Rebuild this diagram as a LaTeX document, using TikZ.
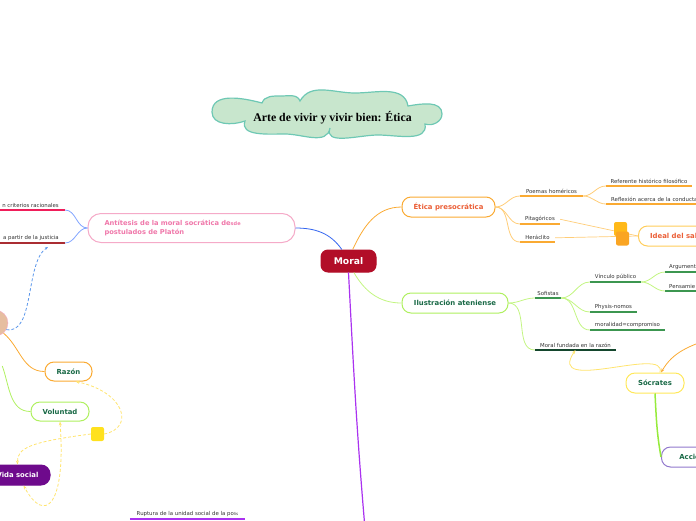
\documentclass[tikz,border=0pt]{standalone}
\usepackage{fontspec}
\setmainfont{DejaVu Sans}
\newfontfamily\titlefont{Liberation Serif}
\usepackage{tikz}
\usetikzlibrary{arrows.meta, positioning, calc}
\definecolor{moralred}{RGB}{178,14,40}
\definecolor{mydark}{RGB}{50,50,50}
\definecolor{myorange}{RGB}{250,170,50}
\definecolor{orangetxt}{RGB}{235,95,55}
\definecolor{lightorange}{RGB}{255,205,120}
\definecolor{ilgreen}{RGB}{175,240,95}
\definecolor{iltxt}{RGB}{25,105,70}
\definecolor{lightgreen}{RGB}{195,245,130}
\definecolor{leafgreen}{RGB}{60,150,80}
\definecolor{deepgreen}{RGB}{20,70,45}
\definecolor{pinkline}{RGB}{245,170,200}
\definecolor{pinktxt}{RGB}{240,120,170}
\definecolor{myblue}{RGB}{50,100,240}
\definecolor{lightblue}{RGB}{130,165,255}
\definecolor{dashblue}{RGB}{90,150,235}
\definecolor{mypurple}{RGB}{170,50,240}
\definecolor{vidapurple}{RGB}{110,10,140}
\definecolor{accpurple}{RGB}{145,120,205}
\definecolor{socyellow}{RGB}{255,232,90}
\definecolor{dashyellow}{RGB}{255,228,110}
\definecolor{sqyellow}{RGB}{255,225,30}
\definecolor{sqorangeA}{RGB}{255,185,25}
\definecolor{sqorangeB}{RGB}{250,165,35}
\definecolor{idealline}{RGB}{255,205,90}
\definecolor{beige}{RGB}{230,190,160}
\definecolor{critred}{RGB}{240,30,90}
\definecolor{justred}{RGB}{170,45,50}
\definecolor{cloudfill}{RGB}{200,230,205}
\definecolor{cloudline}{RGB}{110,200,180}
\definecolor{accgreen}{RGB}{150,235,60}
\tikzset{
  topic/.style={rectangle, draw, fill=white, rounded corners=9pt,
    minimum height=20pt, line width=1pt, inner xsep=4pt,
    font=\fontsize{6.9}{8}\selectfont\bfseries},
  leaf/.style={anchor=south, inner xsep=0pt, inner ysep=1.8pt,
    text=mydark, font=\fontsize{5.4}{6}\selectfont},
  uline/.style={line width=1.3pt},
  branch/.style={line width=0.8pt},
  reldash/.style={dashed, dash pattern=on 3pt off 2pt, line width=0.8pt,
    color=dashyellow},
  relsq/.style={rectangle, rounded corners=2pt, minimum width=13pt,
    minimum height=14pt, inner sep=0pt}
}
\begin{document}
\begin{tikzpicture}[x=1pt, y=-1pt]
  \useasboundingbox (0,0) rectangle (696,520);

  % --- title cloud ---
  \draw[fill=cloudfill, draw=cloudline, line width=1.2pt]
    (262,103) to[out=165,in=90] (212,112) to[out=-90,in=200] (245,121)
    to[out=-110,in=180] (285,134) to[out=0,in=-100] (330,128)
    to[out=-110,in=180] (378,135) to[out=0,in=-80] (425,124)
    to[out=-20,in=-90] (442,114) to[out=90,in=10] (408,106)
    to[out=100,in=0] (355,93) to[out=180,in=60] (300,101)
    to[out=110,in=0] (281,96) to[out=180,in=70] cycle;
  \node[font=\titlefont\fontsize{11.8}{13}\selectfont\bfseries] (title) at (332.5,117.5)
    {Arte de vivir y vivir bien: Ética};

  % --- central topic and main topics ---
  \node[topic, fill=moralred, draw=moralred, text=white, minimum width=55pt,
        minimum height=22pt, rounded corners=7pt,
        font=\fontsize{9.2}{10}\selectfont\bfseries] (moral) at (348.5,261) {Moral};
  \node[topic, draw=myorange, text=orangetxt, minimum width=93pt] (etica) at (448.5,207) {Ética presocrática};
  \node[topic, draw=ilgreen, text=iltxt, minimum width=106pt] (ilus) at (455,303) {Ilustración ateniense};
  \node[topic, draw=pinkline, text=pinktxt, minimum height=29pt, rounded corners=13pt,
        text width=174pt, inner xsep=16.5pt, align=left,
        font=\fontsize{6.7}{9}\selectfont\bfseries] (anti) at (191.5,228)
        {Antítesis de la moral socrática de{\fontsize{5}{5}\selectfont sde}\\postulados de Platón};

  \draw[branch, color=myorange] (moral.70) to[out=65,in=180] (etica.west);
  \draw[branch, color=lightgreen] (moral.-65) to[out=-60,in=180] (ilus.west);
  \draw[branch, color=myblue] (moral.120) to[out=125,in=0] (anti.east);
  \coordinate (bottomhub) at (366,540);
  \draw[line width=1.2pt, color=mypurple] (moral.south) to[out=-87,in=95] (bottomhub);

  % --- Ética presocrática ---
  \node[leaf, minimum width=63pt] (poemas) at (551.5,196) {Poemas homéricos};
  \node[leaf, minimum width=40pt] (pitag) at (540,224) {Pitagóricos};
  \node[leaf, minimum width=35pt] (herac) at (537.5,242) {Heráclito};
  \node[leaf, minimum width=86pt] (refer) at (649,186) {Referente histórico filosófico};
  \node[leaf, anchor=south west, inner xsep=5pt] (reflex) at (606,204) {Reflexión acerca de la conducta};
  \foreach \n in {poemas, pitag, herac, refer}
    \draw[uline, color=myorange] (\n.south west) -- (\n.south east);
  \draw[uline, color=myorange] (reflex.south west) -- ++(95,0);
  \foreach \n in {poemas, pitag, herac}
    \draw[branch, color=lightorange] (etica.east) to[out=0,in=180] (\n.south west);
  \draw[branch, color=lightorange] (poemas.south east) to[out=0,in=180] (refer.south west);
  \draw[branch, color=lightorange] (poemas.south east) to[out=0,in=180] (reflex.south west);

  \node[topic, anchor=west, draw=idealline, text=orangetxt, minimum width=80pt] (ideal) at (638,236) {Ideal del sabio};
  \draw[line width=0.7pt, color=lightorange] (pitag.east) -- (ideal.west);
  \draw[line width=0.7pt, color=lightorange] (herac.east) -- (ideal.west);
  \node[relsq, fill=sqorangeA] (sqa) at (620.5,229) {};
  \node[relsq, fill=sqorangeB] (sqb) at (622.5,238.5) {};

  % --- Ilustración ateniense ---
  \node[leaf, minimum width=26pt] (sofistas) at (548,298) {Sofistas};
  \node[leaf, minimum width=81pt] (moralraz) at (575.5,350) {Moral fundada en la razón};
  \node[leaf, minimum width=51pt] (vinculo) at (615.5,282) {Vínculo público};
  \node[leaf, minimum width=47pt] (physis) at (613.5,312) {Physis-nomos};
  \node[leaf, minimum width=75pt] (moralidad) at (627.5,330) {moralidad=compromiso};
  \node[leaf, anchor=south west, inner xsep=4pt] (argum) at (665,272) {Argument};
  \node[leaf, anchor=south west, inner xsep=4pt] (pensam) at (665,291) {Pensamie};
  \foreach \n in {sofistas, vinculo, physis, moralidad}
    \draw[uline, color=leafgreen] (\n.south west) -- (\n.south east);
  \draw[uline, color=deepgreen] (moralraz.south west) -- (moralraz.south east);
  \foreach \n in {argum, pensam}
    \draw[uline, color=leafgreen] (\n.south west) -- ++(40,0);
  \foreach \n in {sofistas, moralraz}
    \draw[branch, color=lightgreen] (ilus.east) to[out=0,in=180] (\n.south west);
  \foreach \n in {vinculo, physis, moralidad}
    \draw[branch, color=lightgreen] (sofistas.south east) to[out=0,in=180] (\n.south west);
  \foreach \n in {argum, pensam}
    \draw[branch, color=lightgreen] (vinculo.south east) to[out=0,in=180] (\n.south west);

  % --- Sócrates ---
  \node[topic, draw=socyellow, text=iltxt, minimum width=58pt] (soc) at (655,383) {Sócrates};
  \node[topic, anchor=west, draw=accpurple, text=iltxt, minimum width=70pt] (acc) at (661,457) {Acciones};
  \draw[line width=1.5pt, color=accgreen] (soc.south) to[out=-87,in=100] (acc.west);
  \coordinate (offright) at (712,338);
  \draw[branch, color=myorange, -{Stealth[length=4pt]}] (offright) to[out=200,in=60] (soc.60);
  \draw[line width=0.8pt, color=dashyellow, -{Stealth[length=4pt]}]
    (soc.65) .. controls (668,345) and (545,395) .. (moralraz.south);

  % --- Antítesis (left) ---
  \node[leaf, anchor=south east, inner xsep=6pt] (crit) at (65,210) {n criterios racionales};
  \node[leaf, anchor=south east, inner xsep=6pt] (just) at (65,243) {a partir de la justicia};
  \draw[uline, color=critred] (crit.south east) -- ++(-70,0);
  \draw[uline, color=justred] (just.south east) -- ++(-70,0);
  \draw[branch, color=lightblue] (anti.west) to[out=180,in=0] (crit.south east);
  \draw[branch, color=lightblue] (anti.west) to[out=180,in=0] (just.south east);

  \node[circle, fill=beige, draw=pinkline, minimum size=26pt, inner sep=0pt] (circ) at (-5,323) {};
  \coordinate (jtip) at (48,247);
  \draw[dashed, dash pattern=on 3pt off 2pt, line width=0.8pt, color=dashblue, -{Stealth[length=3pt]}]
    (circ.-30) .. controls (35,335) and (25,262) .. (jtip);

  % --- left topics ---
  \node[topic, draw=myorange, text=iltxt, minimum width=47pt, minimum height=19pt] (razon) at (68.5,371.5) {Razón};
  \node[topic, draw=ilgreen, text=iltxt, minimum width=58pt, minimum height=19pt] (vol) at (60,411.5) {Voluntad};
  \node[topic, fill=vidapurple, draw=vidapurple, text=white, minimum width=65pt] (vida) at (17.5,475) {Vida social};
  \draw[branch, color=myorange] (circ.-50) to[out=-40,in=180] (razon.west);
  \draw[branch, color=ilgreen] (circ.-80) ++(5,30) to[out=-70,in=180] (vol.west);

  \node[relsq, fill=sqyellow] (lsq) at (97.5,434) {};
  \draw[reldash, -{Stealth[length=4pt]}] (lsq.east) .. controls (135,428) and (125,392) .. (razon.-55);
  \draw[reldash, -{Stealth[length=4pt]}] (lsq.west) .. controls (30,442) and (17,448) .. (vida.north);
  \draw[reldash, {Stealth[length=4pt]}-{Stealth[length=4pt]}]
    (vol.south) .. controls (66,505) and (45,525) .. (vida.-60);

  % --- bottom ---
  \node[leaf, minimum width=115pt] (ruptura) at (187.5,519)
    {Ruptura de la unidad social de la po{\fontsize{4}{4}\selectfont lis}};
  \draw[uline, color=mypurple] (ruptura.south west) -- (ruptura.south east);
\end{tikzpicture}
\end{document}
